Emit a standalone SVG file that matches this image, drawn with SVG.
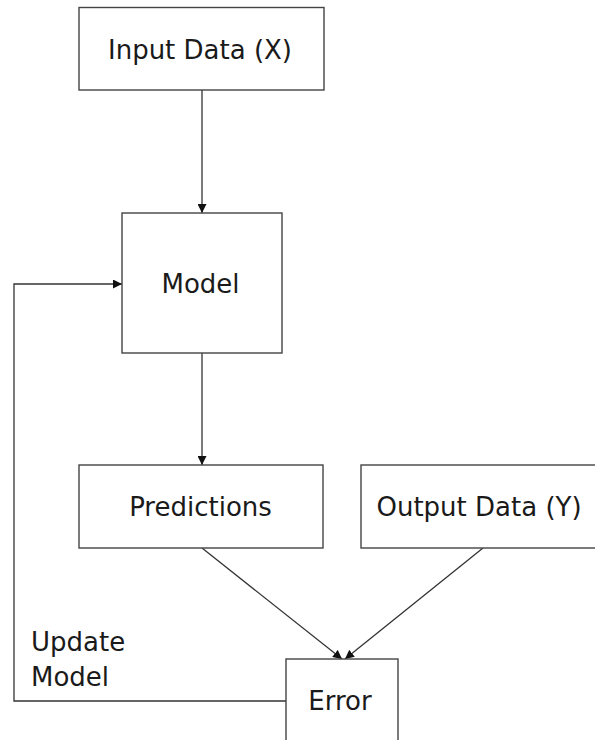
<svg xmlns="http://www.w3.org/2000/svg" width="595" height="740" viewBox="0 0 595 740">
<style>
.box{fill:#fff;stroke:#444;stroke-width:1.4}
.lbl{font-family:"DejaVu Sans","Noto Sans",sans-serif;font-size:26px;fill:#1a1a1a;text-anchor:middle}
.free{font-family:"DejaVu Sans","Noto Sans",sans-serif;font-size:26px;fill:#1a1a1a}
.edge{fill:none;stroke:#333;stroke-width:1.3}
</style>
<defs>
<marker id="ah" viewBox="0 0 10 10" refX="10" refY="5" markerWidth="9" markerHeight="9" markerUnits="userSpaceOnUse" orient="auto">
<path d="M0,0 L10,5 L0,10 z" fill="#111"/>
</marker>
</defs>
<rect width="595" height="740" fill="#fff"/>
<g id="connectors">
<line class="edge" x1="202" y1="90" x2="202" y2="213" marker-end="url(#ah)"/>
<line class="edge" x1="202" y1="353" x2="202" y2="465" marker-end="url(#ah)"/>
<line class="edge" x1="202" y1="548" x2="342" y2="659" marker-end="url(#ah)"/>
<line class="edge" x1="483" y1="548" x2="345" y2="659" marker-end="url(#ah)"/>
<polyline class="edge" points="286,701 14,701 14,284 122,284" marker-end="url(#ah)"/>
<text class="free" x="31" y="651">Update</text>
<text class="free" x="31" y="686">Model</text>
</g>
<g id="input">
<rect class="box" x="79" y="7.5" width="245" height="82.5"/>
<text class="lbl" x="200" y="59">Input Data (X)</text>
</g>
<g id="model">
<rect class="box" x="122" y="213" width="160" height="140"/>
<text class="lbl" x="200.5" y="293">Model</text>
</g>
<g id="predictions">
<rect class="box" x="79" y="465" width="244" height="83"/>
<text class="lbl" x="200.5" y="516">Predictions</text>
</g>
<g id="output">
<rect class="box" x="361" y="465" width="250" height="83"/>
<text class="lbl" x="479" y="516">Output Data (Y)</text>
</g>
<g id="error">
<rect class="box" x="286" y="659" width="112" height="100"/>
<text class="lbl" x="340" y="710">Error</text>
</g>
</svg>
